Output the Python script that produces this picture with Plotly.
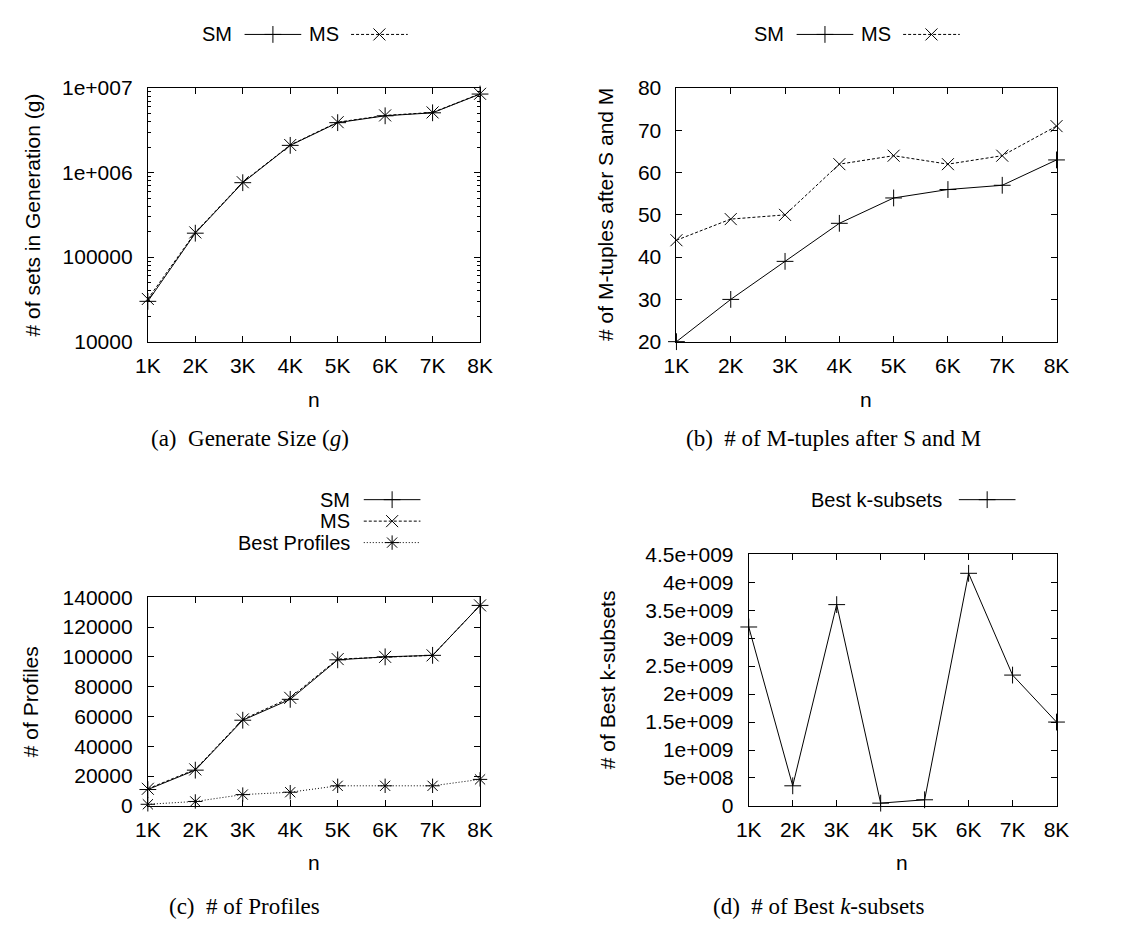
import plotly.graph_objects as go

# ---- data -------------------------------------------------------------
n_pos = [1, 2, 3, 4, 5, 6, 7, 8]
n_labels = ["1K", "2K", "3K", "4K", "5K", "6K", "7K", "8K"]

gen_sm = [30000, 192000, 760000, 2100000, 3900000, 4700000, 5100000, 8500000]
gen_ms = [32000, 196000, 770000, 2120000, 3950000, 4750000, 5150000, 8550000]

tuples_sm = [20, 30, 39, 48, 54, 56, 57, 63]
tuples_ms = [44, 49, 50, 62, 64, 62, 64, 71]

prof_sm = [11000, 24000, 57500, 71500, 98000, 100000, 101000, 134500]
prof_ms = [11500, 24500, 58000, 72500, 98500, 100000, 101000, 134500]
prof_best = [1100, 3000, 7600, 9200, 13500, 13500, 13500, 17800]

best_k = [3.2e9, 0.36e9, 3.6e9, 0.05e9, 0.11e9, 4.16e9, 2.34e9, 1.5e9]

gen_ticks = [1e4, 1e5, 1e6, 1e7]
gen_ticktext = ["10000", "100000", "1e+006", "1e+007"]
bestk_ticks = [0, 5e8, 1e9, 1.5e9, 2e9, 2.5e9, 3e9, 3.5e9, 4e9, 4.5e9]
bestk_ticktext = ["0", "5e+008", "1e+009", "1.5e+009", "2e+009", "2.5e+009",
                  "3e+009", "3.5e+009", "4e+009", "4.5e+009"]

# ---- page geometry (pixels) ------------------------------------------
W, H = 1135, 933
SANS = "Liberation Sans, Arial, sans-serif"
SERIF = "Liberation Serif, Times New Roman, serif"
FS = 21
FS_LEG = 20
FS_CAP = 23


def fx(p):
    return p / W


def fy(p):
    return 1 - p / H


# plot boxes: (left, right, top, bottom)
boxes = {
    1: (138, 478, 78, 338),
    2: (679, 1068, 78, 338),
    3: (138, 478, 600, 814),
    4: (753, 1068, 556, 814),
}

fig = go.Figure()

STYLE = {
    "SM": dict(dash="solid", symbol="cross-thin-open"),
    "MS": dict(dash="3px,2px", symbol="x-thin-open"),
    "Best Profiles": dict(dash="1px,2px", symbol="asterisk-open"),
    "Best k-subsets": dict(dash="solid", symbol="cross-thin-open"),
}


def marker_style(name):
    return dict(symbol=STYLE[name]["symbol"], size=12, color="black",
                line=dict(color="black", width=1))


def add_series(idx, ys, name):
    fig.add_trace(go.Scatter(
        x=n_pos, y=ys, name=name, mode="lines+markers",
        line=dict(color="black", width=1, dash=STYLE[name]["dash"]),
        marker=marker_style(name),
        xaxis=f"x{idx}", yaxis=f"y{idx}", cliponaxis=False,
        showlegend=False,
    ))


add_series(1, gen_sm, "SM")
add_series(1, gen_ms, "MS")
add_series(2, tuples_sm, "SM")
add_series(2, tuples_ms, "MS")
add_series(3, prof_sm, "SM")
add_series(3, prof_ms, "MS")
add_series(3, prof_best, "Best Profiles")
add_series(4, best_k, "Best k-subsets")

axis_common = dict(
    showline=True, linecolor="black", linewidth=1, mirror="allticks",
    ticks="inside", ticklen=6, tickwidth=1, tickcolor="black",
    showgrid=False, zeroline=False,
    tickfont=dict(family=SANS, size=FS, color="black"),
)

layout_axes = {}
for i, (l, r, t, b) in boxes.items():
    xa = dict(axis_common, domain=[fx(l), fx(r)], range=[1, 8],
              tickmode="array", tickvals=n_pos, ticktext=n_labels,
              anchor=f"y{i}", ticklabelstandoff=5)
    ya = dict(axis_common, domain=[fy(b), fy(t)], anchor=f"x{i}",
              ticklabelstandoff=10)
    layout_axes["xaxis" if i == 1 else f"xaxis{i}"] = xa
    layout_axes["yaxis" if i == 1 else f"yaxis{i}"] = ya

# (a) log scale
layout_axes["yaxis"].update(
    type="log", range=[4, 7], tickmode="array",
    tickvals=gen_ticks, ticktext=gen_ticktext,
    minor=dict(ticks="inside", ticklen=3, tickcolor="black", tickwidth=1,
               tickmode="array",
               tickvals=[m * 10 ** e for e in (4, 5, 6) for m in range(2, 10)]),
)
# (b)
layout_axes["yaxis2"].update(range=[20, 80], dtick=10, tick0=0)
# (c)
layout_axes["yaxis3"].update(range=[0, 140000], dtick=20000, tick0=0,
                             tickformat="d")
# (d)
layout_axes["yaxis4"].update(range=[0, 4.5e9], tickmode="array",
                             tickvals=bestk_ticks, ticktext=bestk_ticktext)

# overlay axes in page pixels for legend samples
layout_axes["xaxis5"] = dict(domain=[0, 1], range=[0, W], visible=False,
                             anchor="y5", fixedrange=True)
layout_axes["yaxis5"] = dict(domain=[0, 1], range=[H, 0], visible=False,
                             anchor="x5", fixedrange=True)

annotations = []


def text(x, y, s, size=FS, family=SANS, xanchor="center", angle=0):
    annotations.append(dict(
        x=fx(x), y=fy(y), xref="paper", yref="paper", text=s,
        showarrow=False, xanchor=xanchor, yanchor="middle", textangle=angle,
        font=dict(family=family, size=size, color="black"),
    ))


def legend_entry(label, text_right, x0, x1, y, name):
    text(text_right, y, label, size=FS_LEG, xanchor="right")
    fig.add_trace(go.Scatter(
        x=[x0, x1], y=[y, y], mode="lines",
        line=dict(color="black", width=1, dash=STYLE[name]["dash"]),
        xaxis="x5", yaxis="y5", showlegend=False, hoverinfo="skip"))
    fig.add_trace(go.Scatter(
        x=[(x0 + x1) / 2], y=[y], mode="markers",
        marker=marker_style(name),
        xaxis="x5", yaxis="y5", showlegend=False, hoverinfo="skip"))


# legends
legend_entry("SM", 226, 237, 295, 23, "SM")
legend_entry("MS", 336, 346, 404, 23, "MS")
legend_entry("SM", 791, 802, 860, 23, "SM")
legend_entry("MS", 901, 911, 969, 23, "MS")
legend_entry("SM", 347, 359, 417, 500, "SM")
legend_entry("MS", 347, 359, 417, 522, "MS")
legend_entry("Best Profiles", 347, 359, 417, 544, "Best Profiles")
legend_entry("Best k-subsets", 953, 968, 1026, 500, "Best k-subsets")

# axis titles
text(20, 208, "# of sets in Generation (g)", angle=-90)
text(607, 208, "# of M-tuples after S and M", angle=-90)
text(18, 707, "# of Profiles", angle=-90)
text(608, 685, "# of Best k-subsets", angle=-90)
text(308, 397, "n")
text(873, 397, "n")
text(308, 872, "n")
text(910, 872, "n")

# captions
text(243, 437, "(a)  Generate Size (<i>g</i>)", size=FS_CAP, family=SERIF)
text(840, 437, "(b)  # of M-tuples after S and M", size=FS_CAP, family=SERIF)
text(237, 917, "(c)  # of Profiles", size=FS_CAP, family=SERIF)
text(825, 917, "(d)  # of Best <i>k</i>-subsets", size=FS_CAP, family=SERIF)

fig.update_layout(
    width=W, height=H, margin=dict(l=0, r=0, t=0, b=0),
    paper_bgcolor="white", plot_bgcolor="rgba(0,0,0,0)",
    showlegend=False, annotations=annotations, **layout_axes,
)

fig.write_html("out.html")
